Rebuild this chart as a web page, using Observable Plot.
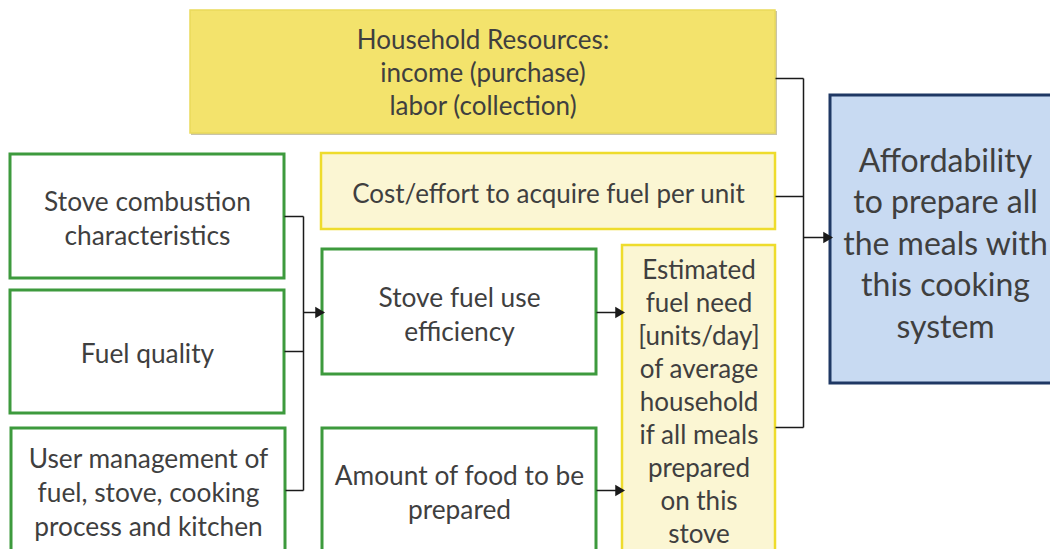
<!DOCTYPE html>
<html>
<head>
<meta charset="utf-8">
<script src="https://cdn.jsdelivr.net/npm/d3@7"></script>
<script src="https://cdn.jsdelivr.net/npm/@observablehq/plot@0.6"></script>
<style>
  html, body { margin: 0; padding: 0; background: #ffffff; overflow: hidden; }
  #chart svg { display: block; }
</style>
</head>
<body>
<div id="chart"></div>
<script>
// ---- Diagram content ----
const nodeIds = ["household", "cost", "combustion", "quality", "user", "efficiency", "food", "estimate", "afford"];
const nodeLabels = [
  "Household Resources:\nincome (purchase)\nlabor (collection)",
  "Cost/effort to acquire fuel per unit",
  "Stove combustion\ncharacteristics",
  "Fuel quality",
  "User management of\nfuel, stove, cooking\nprocess and kitchen",
  "Stove fuel use\nefficiency",
  "Amount of food to be\nprepared",
  "Estimated\nfuel need\n[units/day]\nof average\nhousehold\nif all meals\nprepared\non this\nstove",
  "Affordability\nto prepare all\nthe meals with\nthis cooking\nsystem"
];
const nodeKinds = ["resource", "cost", "factor", "factor", "factor", "factor", "factor", "cost", "outcome"];

// links: [sources] -> target (bracket connectors)
const linkSources = [["combustion", "quality", "user"], ["efficiency"], ["food"], ["household", "cost", "estimate"]];
const linkTargets = ["efficiency", "estimate", "estimate", "afford"];

// ---- Layout (pixel space) ----
const boxX1 = [190, 321, 10, 10, 11, 322, 322, 622, 830];
const boxX2 = [775, 775, 284, 284, 285, 596, 596, 775, 1060];
const boxY1 = [10, 153, 154, 290, 428, 249, 428, 245, 95];
const boxY2 = [133, 229, 278, 413, 560, 374, 560, 600, 383];
const textY = [71, 192, 217, 352, 491, 313, 491, 400, 241];
const portY = [78, 196, 216, 351, 490, 312, 490, 427, 237];
const linkBusX = [303, null, null, 803];
const linkTargetY = [312, 312, 490, 237];

// ---- Styles ----
const kindFill = {resource: "#F3E36C", cost: "#FBF6D3", factor: "#FFFFFF", outcome: "#C8DAF2"};
const kindStroke = {resource: "#EADA5A", cost: "#EEDC2C", factor: "#3D9A3D", outcome: "#1F3864"};
const kindStrokeWidth = {resource: 1.5, cost: 2.5, factor: 3, outcome: 3};
const kindFont = {resource: 26, cost: 26, factor: 26.3, outcome: 32};
const kindLine = {resource: 1.27, cost: 1.27, factor: 1.29, outcome: 1.30};
const kindTextX = {outcome: 945};

const nodes = nodeIds.map((id, i) => ({
  id, label: nodeLabels[i], kind: nodeKinds[i],
  x1: boxX1[i], x2: boxX2[i], y1: boxY1[i], y2: boxY2[i],
  ty: textY[i], py: portY[i],
  tx: kindTextX[nodeKinds[i]] ?? (boxX1[i] + boxX2[i]) / 2
}));
const byId = new Map(nodes.map(d => [d.id, d]));

// build connector segments and arrows from the link table
const segments = [];
const arrows = [];
linkSources.forEach((srcs, k) => {
  const tgt = byId.get(linkTargets[k]);
  const ty = linkTargetY[k];
  if (linkBusX[k] != null) {
    const bx = linkBusX[k];
    const ys = srcs.map(s => byId.get(s).py);
    srcs.forEach(s => { const n = byId.get(s); segments.push({x1: n.x2, y1: n.py, x2: bx, y2: n.py}); });
    segments.push({x1: bx, y1: d3.min(ys), x2: bx, y2: d3.max(ys)});
    arrows.push({x1: bx, y1: ty, x2: tgt.x1, y2: ty});
  } else {
    const n = byId.get(srcs[0]);
    arrows.push({x1: n.x2, y1: ty, x2: tgt.x1, y2: ty});
  }
});

const shadowNodes = nodes.filter(d => d.kind === "resource");

const plot = Plot.plot({
  width: 1050,
  height: 549,
  margin: 0,
  x: {domain: [0, 1050], range: [0, 1050], axis: null},
  y: {domain: [0, 549], range: [0, 549], axis: null},
  color: {type: "identity"},
  style: {background: "#ffffff", fontFamily: "Lato, 'Open Sans', sans-serif"},
  marks: [
    // soft shadow for top box
    Plot.rect(shadowNodes, {x1: d => d.x1 + 1, x2: d => d.x2 + 2, y1: d => d.y1 + 1, y2: d => d.y2 + 2, fill: "#c9c4a8"}),
    Plot.rect(nodes, {
      x1: "x1", x2: "x2", y1: "y1", y2: "y2",
      fill: d => kindFill[d.kind],
      stroke: d => kindStroke[d.kind],
      strokeWidth: d => kindStrokeWidth[d.kind]
    }),
    Plot.link(segments, {x1: "x1", y1: "y1", x2: "x2", y2: "y2", stroke: "#1a1a1a", strokeWidth: 1.5}),
    Plot.link(arrows, {x1: "x1", y1: "y1", x2: d => d.x2 - 5, y2: "y2", stroke: "#1a1a1a", strokeWidth: 1.5}),
    Plot.dot(arrows, {x: "x2", y: "y2", symbol: "triangle", r: 4.2, rotate: 90, dx: -4, fill: "#1a1a1a", stroke: null}),
    ...["resource", "cost", "factor", "outcome"].map(kind =>
      Plot.text(nodes.filter(d => d.kind === kind), {
        x: "tx", y: "ty", text: "label",
        fontSize: kindFont[kind], lineHeight: kindLine[kind],
        fill: "#3f3f3f", fontFamily: "Lato, 'Open Sans', sans-serif"
      })
    )
  ]
});
document.getElementById("chart").appendChild(plot);
</script>
</body>
</html>
